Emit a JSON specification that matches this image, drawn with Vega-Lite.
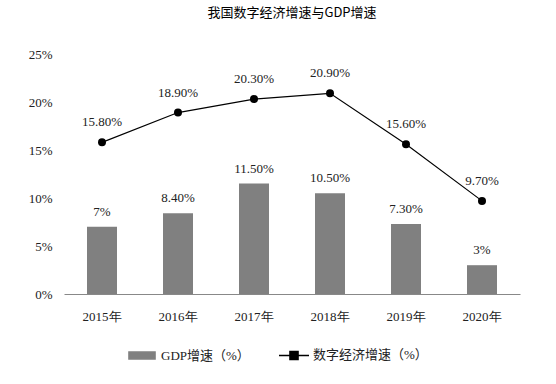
{
  "$schema": "https://vega.github.io/schema/vega-lite/v6.json",
  "autosize": {"type": "none"},
  "padding": {"left": 64, "top": 54, "right": 36, "bottom": 90},
  "width": 456,
  "height": 240,
  "background": "#ffffff",
  "title": {"text": "我国数字经济增速与GDP增速", "font": "Noto Sans CJK SC", "fontSize": 13, "fontWeight": "normal", "color": "#000000", "offset": 28, "anchor": "middle"},
  "data": {"values": [
    {"year": "2015年", "gdp": 7.0, "gdpLabel": "7%", "digital": 15.8, "digitalLabel": "15.80%"},
    {"year": "2016年", "gdp": 8.4, "gdpLabel": "8.40%", "digital": 18.9, "digitalLabel": "18.90%"},
    {"year": "2017年", "gdp": 11.5, "gdpLabel": "11.50%", "digital": 20.3, "digitalLabel": "20.30%"},
    {"year": "2018年", "gdp": 10.5, "gdpLabel": "10.50%", "digital": 20.9, "digitalLabel": "20.90%"},
    {"year": "2019年", "gdp": 7.3, "gdpLabel": "7.30%", "digital": 15.6, "digitalLabel": "15.60%"},
    {"year": "2020年", "gdp": 3.0, "gdpLabel": "3%", "digital": 9.7, "digitalLabel": "9.70%"}
  ]},
  "encoding": {
    "x": {"field": "year", "type": "nominal", "sort": null, "title": null,
      "scale": {"paddingInner": 0, "paddingOuter": 0},
      "axis": {"labelAngle": 0, "ticks": false, "domainColor": "#888888", "labelFont": "Liberation Serif", "labelFontSize": 13, "labelColor": "#222222", "labelPadding": 16}}
  },
  "layer": [
    {
      "mark": {"type": "bar", "size": 30},
      "encoding": {
        "y": {"field": "gdp", "type": "quantitative", "title": null,
          "scale": {"domain": [0, 25], "nice": false},
          "axis": {"values": [0, 5, 10, 15, 20, 25], "labelExpr": "datum.value + '%'", "grid": false, "domain": false, "ticks": false, "labelFont": "Liberation Serif", "labelFontSize": 13, "labelColor": "#222222", "labelPadding": 12}},
        "color": {"datum": "GDP增速（%）", "type": "nominal",
          "scale": {"domain": ["GDP增速（%）", "数字经济增速（%）"], "range": ["#808080", "#000000"]},
          "legend": {
            "title": null, "orient": "none", "legendX": 62, "legendY": 285, "direction": "horizontal",
            "labelFont": "Liberation Serif, Noto Sans CJK SC", "labelFontSize": 13, "labelColor": "#222222",
            "symbolSize": 900, "columnPadding": 26, "labelOffset": 3,
            "encode": {"symbols": {"update": {
              "shape": {"signal": "datum.value == 'GDP增速（%）' ? 'M-0.87,-0.23H0.87V0.23H-0.87Z' : 'M-1,0H1M-0.27,-0.27H0.27V0.27H-0.27Z'"},
              "fill": {"signal": "datum.value == 'GDP增速（%）' ? '#808080' : '#404040'"},
              "stroke": {"signal": "datum.value == 'GDP增速（%）' ? '#808080' : '#000000'"},
              "strokeWidth": {"value": 1.5},
              "opacity": {"value": 1},
              "fillOpacity": {"value": 1}
            }}}
          }}
      }
    },
    {
      "mark": {"type": "text", "dy": -8, "baseline": "bottom", "font": "Liberation Serif", "fontSize": 13, "color": "#222222"},
      "encoding": {"y": {"field": "gdp", "type": "quantitative"}, "text": {"field": "gdpLabel"}}
    },
    {
      "mark": {"type": "line", "strokeWidth": 1.2, "point": {"filled": true, "size": 64, "color": "#000000"}},
      "encoding": {
        "y": {"field": "digital", "type": "quantitative"},
        "color": {"datum": "数字经济增速（%）", "type": "nominal"}
      }
    },
    {
      "mark": {"type": "text", "dy": -13, "baseline": "bottom", "font": "Liberation Serif", "fontSize": 13, "color": "#222222"},
      "encoding": {"y": {"field": "digital", "type": "quantitative"}, "text": {"field": "digitalLabel"}}
    }
  ],
  "config": {"view": {"stroke": null}}
}
